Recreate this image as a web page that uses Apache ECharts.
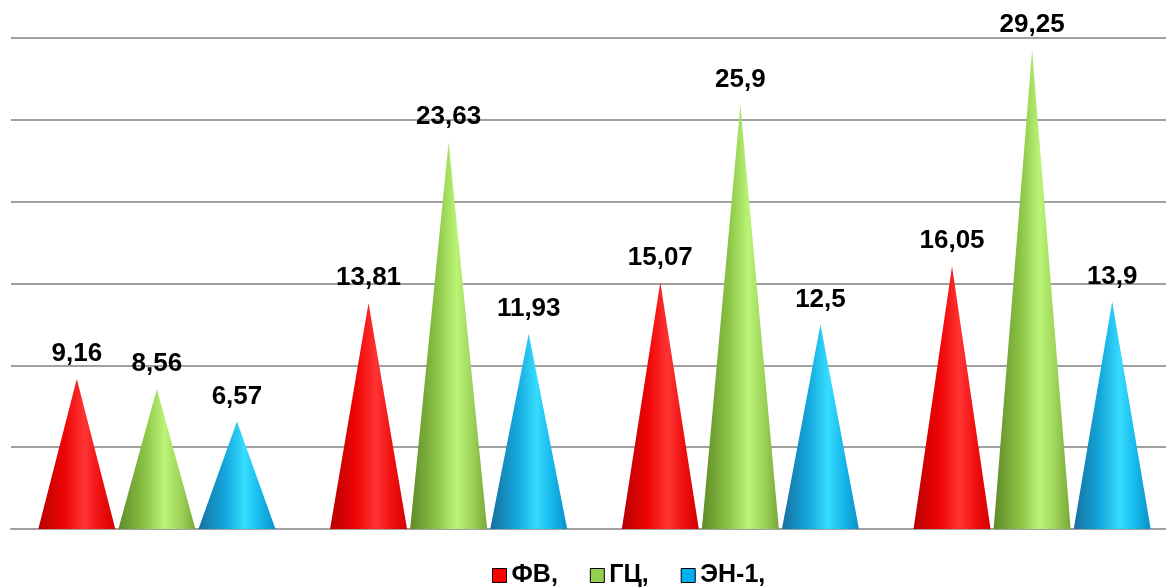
<!DOCTYPE html>
<html><head><meta charset="utf-8">
<script src="https://cdn.jsdelivr.net/npm/echarts@6/dist/echarts.min.js"></script>
<style>html,body{margin:0;padding:0;background:#fff}#c{width:1166px;height:587px}</style>
</head><body><div id="c"></div>
<script>
const categories = ['1', '2', '3', '4'];
const seriesNames = ['ФВ,', 'ГЦ,', 'ЭН-1,'];
const fvValues = [9.16, 13.81, 15.07, 16.05];
const gcValues = [8.56, 23.63, 25.9, 29.25];
const enValues = [6.57, 11.93, 12.5, 13.9];

const FONT = '"Liberation Sans Narrow", "Arial Narrow", "Liberation Sans", Arial, sans-serif';
function grad(stops) {
  return new echarts.graphic.LinearGradient(0, 0, 1, 0, stops.map(c => ({offset: c[0], color: c[1]})));
}
const fills = [
  grad([[0, '#b80000'], [0.35, '#f00606'], [0.6, '#ff3434'], [0.8, '#f01010'], [1, '#d40000']]),
  grad([[0, '#5f8a28'], [0.35, '#8cc446'], [0.6, '#baf476'], [0.8, '#9fd45a'], [1, '#78a838']]),
  grad([[0, '#1670a0'], [0.35, '#14a8dc'], [0.6, '#36dcff'], [0.8, '#16b8ea'], [1, '#0a90c8']])
];
const legendColors = ['#ff0000', '#92d050', '#00b0f0'];
const dataSets = [fvValues, gcValues, enValues];

const chart = echarts.init(document.getElementById('c'));
chart.setOption({
  animation: false,
  grid: {left: 11, width: 1167, top: 38, bottom: 58, outerBoundsMode: 'none'},
  legend: {
    top: 558, left: 487,
    itemWidth: 14, itemHeight: 14, itemGap: 32, itemTextGap: 4,
    textStyle: {fontFamily: FONT, fontWeight: 'bold', fontSize: 25, color: '#000'},
    data: seriesNames.map((n, i) => ({name: n, icon: 'rect', itemStyle: {color: legendColors[i], borderColor: '#000', borderWidth: 1}}))
  },
  xAxis: {
    type: 'category', data: categories,
    axisLine: {lineStyle: {color: '#a0a0a0', width: 2}},
    axisTick: {show: false}, axisLabel: {show: false}
  },
  yAxis: {
    type: 'value', min: 0, max: 30, interval: 5,
    axisLabel: {show: false}, axisLine: {show: false}, axisTick: {show: false},
    splitLine: {lineStyle: {color: '#a0a0a0', width: 2}}
  },
  series: dataSets.map((d, i) => ({
    name: seriesNames[i], type: 'pictorialBar',
    symbol: 'triangle', symbolSize: ['100%', '100%'],
    barWidth: 77, barGap: '4%', barCategoryGap: '19%',
    itemStyle: {color: fills[i]},
    label: {
      show: true, position: 'top', distance: 12,
      fontFamily: FONT, fontWeight: 'bold', fontSize: 26, color: '#000',
      formatter: p => String(p.value).replace('.', ',')
    },
    data: d
  }))
});
</script></body></html>
